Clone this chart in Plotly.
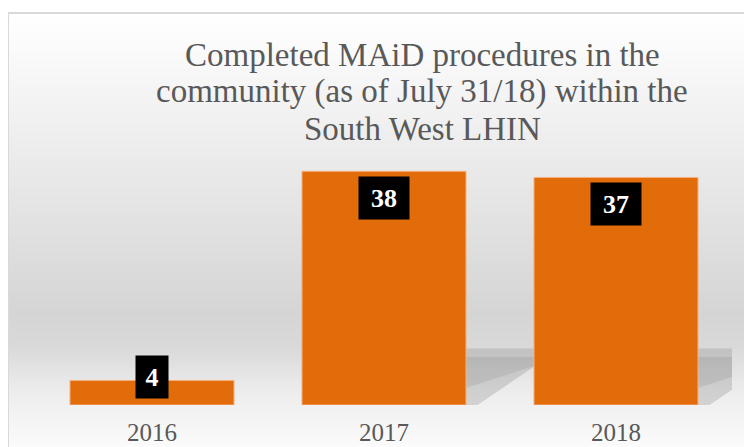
import plotly.graph_objects as go

# chart data
years = ['2016', '2017', '2018']
procedures = [4, 38, 37]

title_lines = ['Completed MAiD procedures in the',
               'community (as of July 31/18) within the',
               'South West LHIN']

ORANGE = '#E36C0A'
GREY_TXT = '#595959'
FONT = 'Liberation Serif'

# the page puts the figure 8px in from the window corner; the figure is a bit
# bigger than what is in view so the grey background reaches the window edges
OFF = 8
W, H = 752, 447
L, T = 36 - OFF, 159 - OFF
R = W - (732 - OFF)
B = H - (405 - OFF)
plot_w = W - L - R
plot_h = H - T - B


def px_x(p):
    # screen x -> paper x
    return (p - OFF - L) / plot_w


def px_y(p):
    # screen y -> paper y
    return (H - B - (p - OFF)) / plot_h


fig = go.Figure()

fig.add_trace(go.Bar(x=list(range(len(years))), y=procedures,
                     marker=dict(color=ORANGE, line=dict(color='#F4B183', width=1)),
                     hoverinfo='x+y', showlegend=False))

shapes = []

# background: vertical grey gradient inside the chart frame
stops = [(13, 255), (150, 236), (310, 213), (345, 217), (395, 239), (447, 251), (470, 252)]
step = 4
y = 13
while y < 460:
    for (y0, c0), (y1, c1) in zip(stops, stops[1:]):
        if y0 <= y <= y1:
            c = int(round(c0 + (c1 - c0) * (y - y0) / (y1 - y0)))
            break
    shapes.append(dict(type='rect', xref='paper', yref='paper', layer='below',
                       x0=px_x(8), x1=px_x(770), y0=px_y(y + step), y1=px_y(y),
                       fillcolor=f'rgb({c},{c},{c})', line=dict(width=0)))
    y += step

# chart frame (only left and top edges are in view)
shapes.append(dict(type='line', xref='paper', yref='paper', layer='below',
                   x0=px_x(8), x1=px_x(8), y0=px_y(13), y1=px_y(470),
                   line=dict(color='#D9D9D9', width=2)))
shapes.append(dict(type='line', xref='paper', yref='paper', layer='below',
                   x0=px_x(8), x1=px_x(770), y0=px_y(13), y1=px_y(13),
                   line=dict(color='#D9D9D9', width=2)))

# soft perspective shadows to the right of the tall bars
half = (1 - 0.293) / 2
for i, v in enumerate(procedures):
    if v < 10:
        continue
    h = 9.2
    r = i + half
    shapes.append(dict(type='path', xref='x', yref='y', layer='below',
                       path=f'M {r},0 L {r},{h} L {r + 0.3},{h} L {r + 0.3},{h * 0.7} L {r + 0.05},0 Z',
                       fillcolor='rgba(120,120,120,0.25)', line=dict(width=0)))
    shapes.append(dict(type='path', xref='x', yref='y', layer='below',
                       path=f'M {r},{h * 0.3} L {r},{h * 0.85} L {r + 0.3},{h * 0.85} L {r + 0.3},{h * 0.7} Z',
                       fillcolor='rgba(110,110,110,0.15)', line=dict(width=0)))

annotations = []

# title, one annotation per line so the line spacing can be tight
for k, line in enumerate(title_lines):
    annotations.append(dict(xref='paper', yref='paper', x=px_x(422), y=px_y(55 + 37 * k),
                            xanchor='center', yanchor='middle', showarrow=False,
                            text=line, font=dict(family=FONT, size=33, color=GREY_TXT)))

# data labels: black boxes near the top of each bar
y_px = plot_h / 40.0
for i, v in enumerate(procedures):
    yc = max(v - 27 / y_px, 28 / y_px)
    annotations.append(dict(x=i, y=yc, xref='x', yref='y', showarrow=False,
                            text=f'<b>{v}</b>', bgcolor='black',
                            width=12 + 18 * len(str(v)), height=40,
                            font=dict(family=FONT, size=26, color='white')))

fig.update_layout(
    width=W, height=H,
    margin=dict(l=L, r=R, t=T, b=B),
    paper_bgcolor='white',
    plot_bgcolor='rgba(0,0,0,0)',
    bargap=0.293,
    shapes=shapes,
    annotations=annotations,
    xaxis=dict(tickmode='array', tickvals=list(range(len(years))), ticktext=years,
               range=[-0.5, len(years) - 0.5], showgrid=False, zeroline=False,
               showline=False, ticks='', ticklabelstandoff=10, automargin=False,
               tickfont=dict(family=FONT, size=25, color=GREY_TXT)),
    yaxis=dict(range=[0, 40], visible=False, showgrid=False, zeroline=False,
               automargin=False),
)

fig.write_html('out.html')
